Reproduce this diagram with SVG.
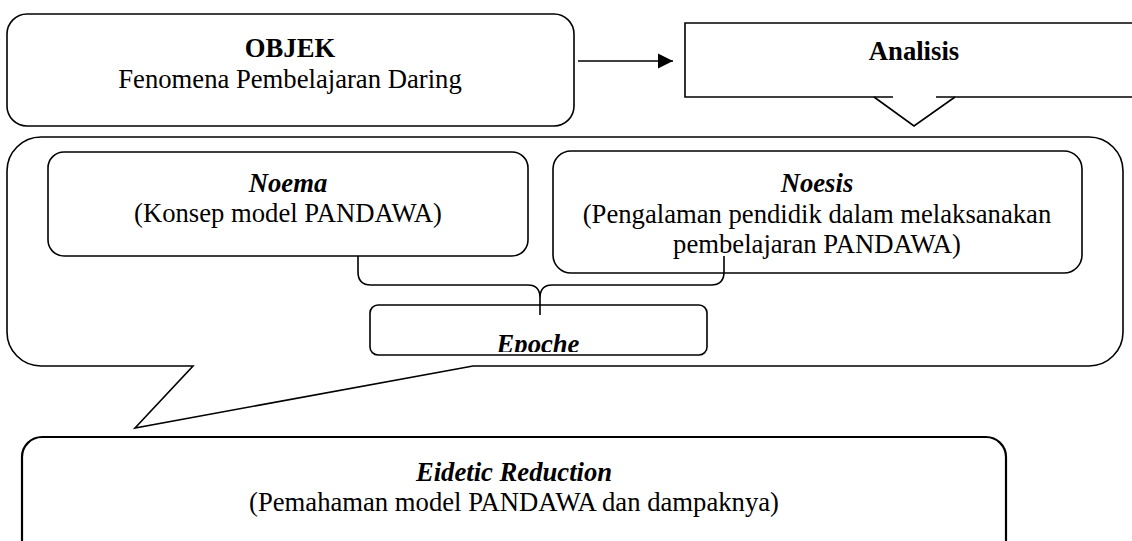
<svg xmlns="http://www.w3.org/2000/svg" width="1132" height="541" viewBox="0 0 1132 541">
<style>
.box{fill:#fff;stroke:#000;stroke-width:1.6}
.ln{fill:none;stroke:#000;stroke-width:1.6}
text{font-family:"Liberation Serif","Times New Roman",serif;font-size:26.67px;fill:#000;text-anchor:middle}
.b{font-weight:bold}
.bi{font-weight:bold;font-style:italic}
</style>
<defs>
<marker id="ah" viewBox="0 0 10 10" refX="10" refY="5" markerWidth="15" markerHeight="16" markerUnits="userSpaceOnUse" orient="auto">
<path d="M0,0 L10,5 L0,10 Z" fill="#000"/>
</marker>
<clipPath id="epclip"><rect x="370" y="305" width="337" height="47"/></clipPath>
</defs>
<rect width="1132" height="541" fill="#fff"/>

<g id="objek">
<rect class="box" x="7" y="14" width="567" height="112" rx="20"/>
<text class="b" x="290" y="57">OBJEK</text>
<text x="290" y="88">Fenomena Pembelajaran Daring</text>
</g>

<g id="analisis">
<path class="box" d="M1145,97 H936 M893,97 H685 V23 H1145"/>
<polyline class="ln" points="874,97 914,126 955,97"/>
<text class="b" x="914" y="60">Analisis</text>
</g>

<g id="outer">
<path class="box" d="M41,137 H1089 A34,34 0 0 1 1123,171 V332 A34,34 0 0 1 1089,366 H473 L135,428 L193,366 H41 A34,34 0 0 1 7,332 V171 A34,34 0 0 1 41,137 Z"/>
</g>

<g id="noema">
<rect class="box" x="48" y="152" width="480" height="104" rx="16"/>
<text class="bi" x="288" y="192">Noema</text>
<text x="288" y="222">(Konsep model PANDAWA)</text>
</g>

<g id="noesis">
<rect class="box" x="553" y="151" width="529" height="122" rx="18"/>
<text class="bi" x="817" y="192">Noesis</text>
<text x="817" y="223">(Pengalaman pendidik dalam melaksanakan</text>
<text x="817" y="253">pembelajaran PANDAWA)</text>
</g>

<g id="epoche">
<rect class="box" x="370" y="305" width="337" height="50" rx="8"/>
<text class="bi" x="538" y="353" clip-path="url(#epclip)">Epoche</text>
</g>

<g id="eidetic">
<rect class="box" x="22" y="437" width="984" height="140" rx="20" style="stroke-width:2.2"/>
<text class="bi" x="514" y="481">Eidetic Reduction</text>
<text x="514" y="511">(Pemahaman model PANDAWA dan dampaknya)</text>
</g>

<g id="connectors">
<line class="ln" x1="578" y1="61" x2="673" y2="61" marker-end="url(#ah)"/>
<path class="ln" d="M358,256 V272 Q358,285 371,285 H528 Q540,285 540,298 V315 M540,298 Q540,285 552,285 H711 Q724,285 724,272 V256"/>
</g>
</svg>
